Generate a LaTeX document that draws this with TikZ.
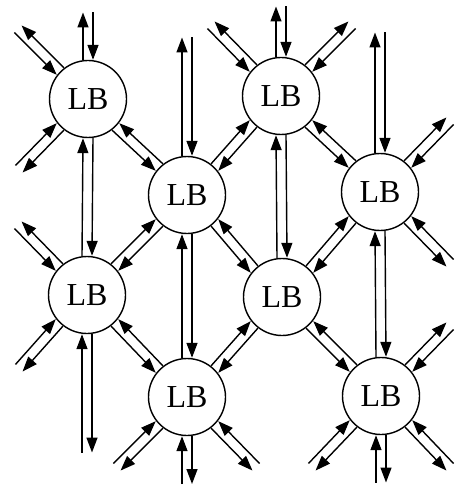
\documentclass[tikz,border=0pt]{standalone}
\usepackage{fontspec}
\setmainfont{Liberation Serif}
\usetikzlibrary{arrows.meta}
\tikzset{
  lb/.style={circle, draw, line width=1.4pt, minimum size=77pt, inner sep=0pt,
             font=\fontsize{32}{32}\selectfont},
  arr/.style={line width=1.4pt, -{Triangle[length=15pt,width=11pt]}}
}
% vertical pair: #1 upper end, #2 lower end
\newcommand\pairV[2]{%
  \draw[arr] ([xshift=-5pt]#2) -- ([xshift=-5pt]#1);
  \draw[arr] ([xshift=5pt]#1) -- ([xshift=5pt]#2);
}
% "\" pair: #1 upper-left end, #2 lower-right end
\newcommand\pairBS[2]{%
  \draw[arr] ([xshift=3.54pt,yshift=3.54pt]#2) -- ([xshift=3.54pt,yshift=3.54pt]#1);
  \draw[arr] ([xshift=-3.54pt,yshift=-3.54pt]#1) -- ([xshift=-3.54pt,yshift=-3.54pt]#2);
}
% "/" pair: #1 lower-left end, #2 upper-right end
\newcommand\pairFS[2]{%
  \draw[arr] ([xshift=-3.54pt,yshift=3.54pt]#1) -- ([xshift=-3.54pt,yshift=3.54pt]#2);
  \draw[arr] ([xshift=3.54pt,yshift=-3.54pt]#2) -- ([xshift=3.54pt,yshift=-3.54pt]#1);
}
\begin{document}
\begin{tikzpicture}[x=1pt,y=-1pt]
\fill[white] (0,0) rectangle (455,489);
\useasboundingbox (0,0) rectangle (455,489);
% nodes
\node[lb] (A) at (88,99) {LB};
\node[lb] (B) at (281,96) {LB};
\node[lb] (C) at (187,195) {LB};
\node[lb] (D) at (380,192) {LB};
\node[lb] (E) at (87,295) {LB};
\node[lb] (F) at (282,297) {LB};
\node[lb] (G) at (187,397) {LB};
\node[lb] (H) at (381,396) {LB};
% free stub ends
\coordinate (Au) at (88,12.5);
\coordinate (Aul) at (18,29);
\coordinate (Adl) at (19,169);
\coordinate (Bu) at (281,6.5);
\coordinate (Bul) at (211,25);
\coordinate (Bur) at (352,25);
\coordinate (Cu) at (187,37.5);
\coordinate (Du) at (380,32.5);
\coordinate (Dur) at (450,121);
\coordinate (Ddr) at (450,263);
\coordinate (Eul) at (18,225);
\coordinate (Edl) at (19,368);
\coordinate (Ed) at (87,452.5);
\coordinate (Gdl) at (117,467);
\coordinate (Gd) at (187,484);
\coordinate (Gdr) at (256,467);
\coordinate (Hur) at (450,326);
\coordinate (Hdl) at (312,467);
\coordinate (Hd) at (381,482.5);
\coordinate (Hdr) at (450,467);
% node-to-node pairs
\pairV{A.south}{E.north}
\pairV{C.south}{G.north}
\pairV{B.south}{F.north}
\pairV{D.south}{H.north}
\pairBS{A.south east}{C.north west}
\pairBS{B.south east}{D.north west}
\pairBS{C.south east}{F.north west}
\pairBS{E.south east}{G.north west}
\pairBS{F.south east}{H.north west}
\pairFS{C.north east}{B.south west}
\pairFS{E.north east}{C.south west}
\pairFS{F.north east}{D.south west}
\pairFS{G.north east}{F.south west}
% stubs
\pairV{Au}{A.north}
\pairBS{Aul}{A.north west}
\pairFS{Adl}{A.south west}
\pairV{Bu}{B.north}
\pairBS{Bul}{B.north west}
\pairFS{B.north east}{Bur}
\pairV{Cu}{C.north}
\pairV{Du}{D.north}
\pairFS{D.north east}{Dur}
\pairBS{D.south east}{Ddr}
\pairBS{Eul}{E.north west}
\pairFS{Edl}{E.south west}
\pairV{E.south}{Ed}
\pairFS{Gdl}{G.south west}
\pairV{G.south}{Gd}
\pairBS{G.south east}{Gdr}
\pairFS{H.north east}{Hur}
\pairFS{Hdl}{H.south west}
\pairV{H.south}{Hd}
\pairBS{H.south east}{Hdr}
\end{tikzpicture}
\end{document}
